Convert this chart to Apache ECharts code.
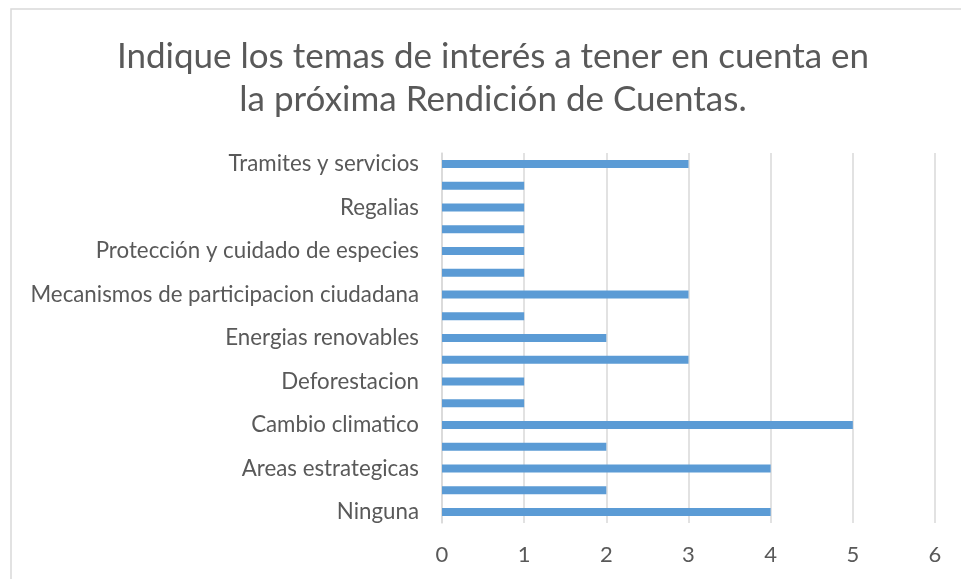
<!DOCTYPE html>
<html><head><meta charset="utf-8">
<script src="https://cdn.jsdelivr.net/npm/echarts@6/dist/echarts.min.js"></script>
<style>html,body{margin:0;padding:0;background:#fff}#c{width:961px;height:579px}</style>
</head><body><div id="c"></div>
<script>
const titleText = "Indique los temas de interés a tener en cuenta en\nla próxima Rendición de Cuentas.";
const categories = ["Ninguna","Agua","Areas estrategicas","Biodiversidad","Cambio climatico","Contaminacion","Deforestacion","Educacion ambiental","Energias renovables","Gestion del riesgo","Mecanismos de participacion ciudadana","Mineria","Protección y cuidado de especies","Recurso hidrico","Regalias","Residuos solidos","Tramites y servicios"];
const values = [4,2,4,2,5,1,1,3,2,1,3,1,1,1,1,1,3];
const xTicks = [0,1,2,3,4,5,6];

const chart = echarts.init(document.getElementById('c'), null, {renderer:'canvas'});
const font = 'Lato, "Open Sans", sans-serif';
chart.setOption({
  animation:false,
  graphic:[
    {type:'rect',shape:{x:11,y:9,width:1000,height:1000},style:{fill:'none',stroke:'#d9d9d9',lineWidth:1.5},silent:true},
    {type:'text',x:493,y:35,silent:true,style:{text:titleText,fontFamily:font,fontSize:35,fill:'#595959',align:'center',verticalAlign:'top',lineHeight:43}}
  ],
  grid:{left:442,right:26,top:153,bottom:56,containLabel:false},
  xAxis:{type:'value',min:xTicks[0],max:xTicks[xTicks.length-1],interval:1,
    axisLine:{show:false},axisTick:{show:false},
    axisLabel:{fontFamily:font,fontSize:22,color:'#595959',margin:21},
    splitLine:{lineStyle:{color:'#d9d9d9',width:1.5}}},
  yAxis:{type:'category',data:categories,
    axisLine:{show:true,lineStyle:{color:'#d9d9d9',width:1.5}},axisTick:{show:false},
    axisLabel:{interval:1,fontFamily:font,fontSize:22.3,color:'#595959',margin:23}},
  series:[{type:'bar',data:values,barWidth:8,itemStyle:{color:'#5b9bd5'}}]
});
</script></body></html>
